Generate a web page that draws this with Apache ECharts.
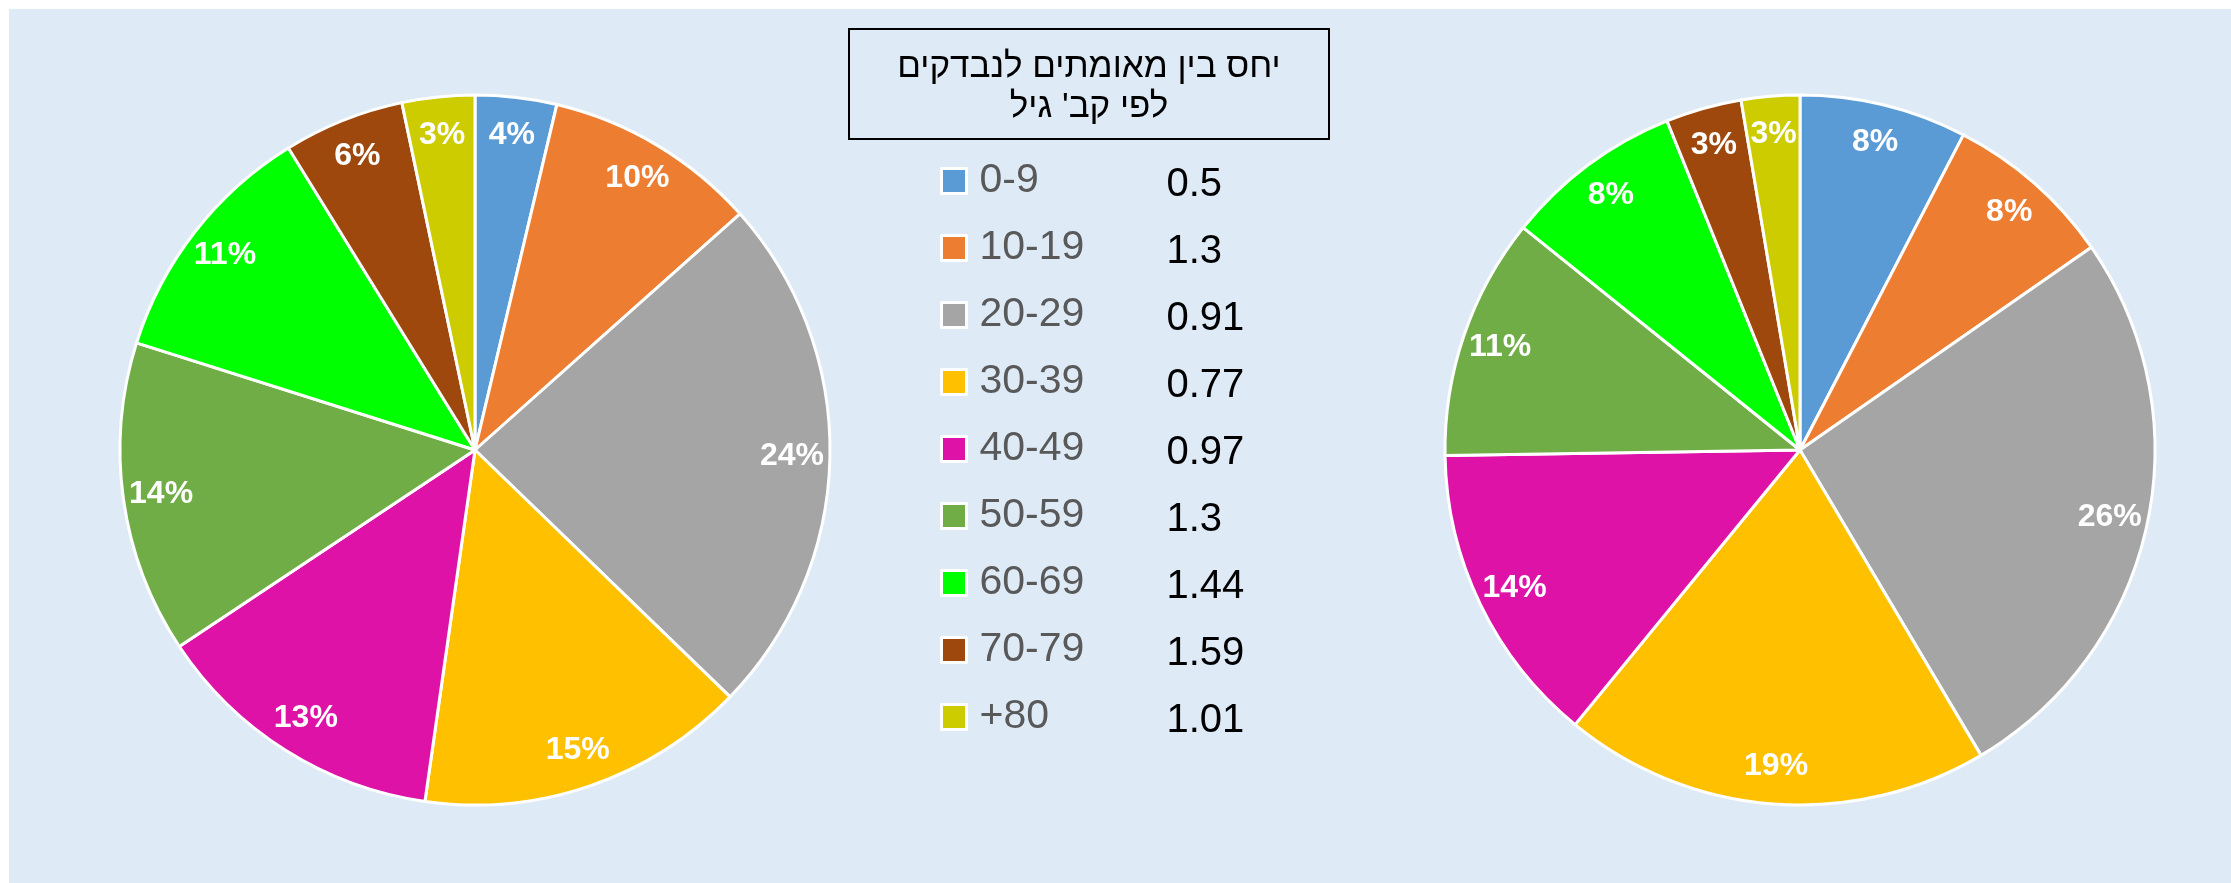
<!DOCTYPE html>
<html>
<head>
<meta charset="utf-8">
<script src="https://cdn.jsdelivr.net/npm/echarts@6/dist/echarts.min.js"></script>
<style>
  html, body { margin: 0; padding: 0; background: #fff; }
  #chart { position: absolute; left: 9px; top: 9px; width: 2222px; height: 874px; }
</style>
</head>
<body>
<div id="chart"></div>
<script>
const ageGroups = ["0-9", "10-19", "20-29", "30-39", "40-49", "50-59", "60-69", "70-79", "+80"];
// share of confirmed cases (left) and of tested people (right), percent
const confirmedShare = [3.7, 9.7, 23.8, 15.0, 13.4, 14.2, 11.3, 5.5, 3.3];
const testedShare = [7.6, 7.7, 26.1, 19.4, 13.8, 11.0, 8.1, 3.45, 2.65];
const ratioLabels = ["0.5", "1.3", "0.91", "0.77", "0.97", "1.3", "1.44", "1.59", "1.01"];
const titleText = "יחס בין מאומתים לנבדקים\nלפי קב' גיל";

const ageColors = ["#5B9BD5", "#ED7D31", "#A5A5A5", "#FFC000", "#DF12A8", "#70AD47", "#00FF00", "#9E480E", "#CCCC00"];
const FONT = "Liberation Sans, Arial, sans-serif";

const chart = echarts.init(document.getElementById("chart"));

const toData = (values) => values.map((v, i) => ({ name: ageGroups[i], value: v }));

const piePart = (values, center) => ({
  type: "pie",
  center: center,
  radius: 355,
  startAngle: 90,
  data: toData(values),
  itemStyle: { borderColor: "#fff", borderWidth: 3 },
  label: { show: false },
  labelLine: { show: false },
  emphasis: { disabled: true },
});

// transparent ring so the percent labels sit near the rim
const labelRing = (values, center) => ({
  type: "pie",
  center: center,
  radius: [273, 355],
  startAngle: 90,
  silent: true,
  data: toData(values),
  itemStyle: { color: "rgba(0,0,0,0)", borderWidth: 0 },
  label: {
    show: true,
    position: "inside",
    color: "#fff",
    fontWeight: "bold",
    fontSize: 32,
    fontFamily: FONT,
    formatter: (p) => Math.round(p.percent) + "%",
  },
  labelLine: { show: false },
  emphasis: { disabled: true },
});

const leftCenter = [466, 441];
const rightCenter = [1791, 441];

chart.setOption({
  animation: false,
  backgroundColor: "#DEEBF7",
  color: ageColors,
  title: {
    text: titleText,
    left: 1031,
    top: 20,
    padding: [18, 49, 12, 49],
    textAlign: "center",
    textVerticalAlign: "top",
    borderColor: "#000",
    borderWidth: 2,
    textStyle: {
      fontFamily: FONT,
      fontSize: 35,
      fontWeight: "normal",
      color: "#000",
      lineHeight: 40,
    },
  },
  legend: {
    orient: "vertical",
    left: 931,
    top: 148,
    padding: 0,
    itemWidth: 25,
    itemHeight: 25,
    itemGap: 19,
    icon: "rect",
    selectedMode: false,
    data: ageGroups,
    itemStyle: { borderColor: "#fff", borderWidth: 3 },
    formatter: (name) => `{n|${name}}{v|${ratioLabels[ageGroups.indexOf(name)]}}`,
    textStyle: {
      rich: {
        n: { fontFamily: FONT, fontSize: 41, color: "#595959", width: 187, padding: [0, 0, 0, 8], lineHeight: 46 },
        v: { fontFamily: FONT, fontSize: 40, color: "#000", padding: [8, 0, 0, 0], lineHeight: 38 },
      },
    },
  },
  series: [
    piePart(confirmedShare, leftCenter),
    piePart(testedShare, rightCenter),
    labelRing(confirmedShare, leftCenter),
    labelRing(testedShare, rightCenter),
  ],
});
</script>
</body>
</html>
